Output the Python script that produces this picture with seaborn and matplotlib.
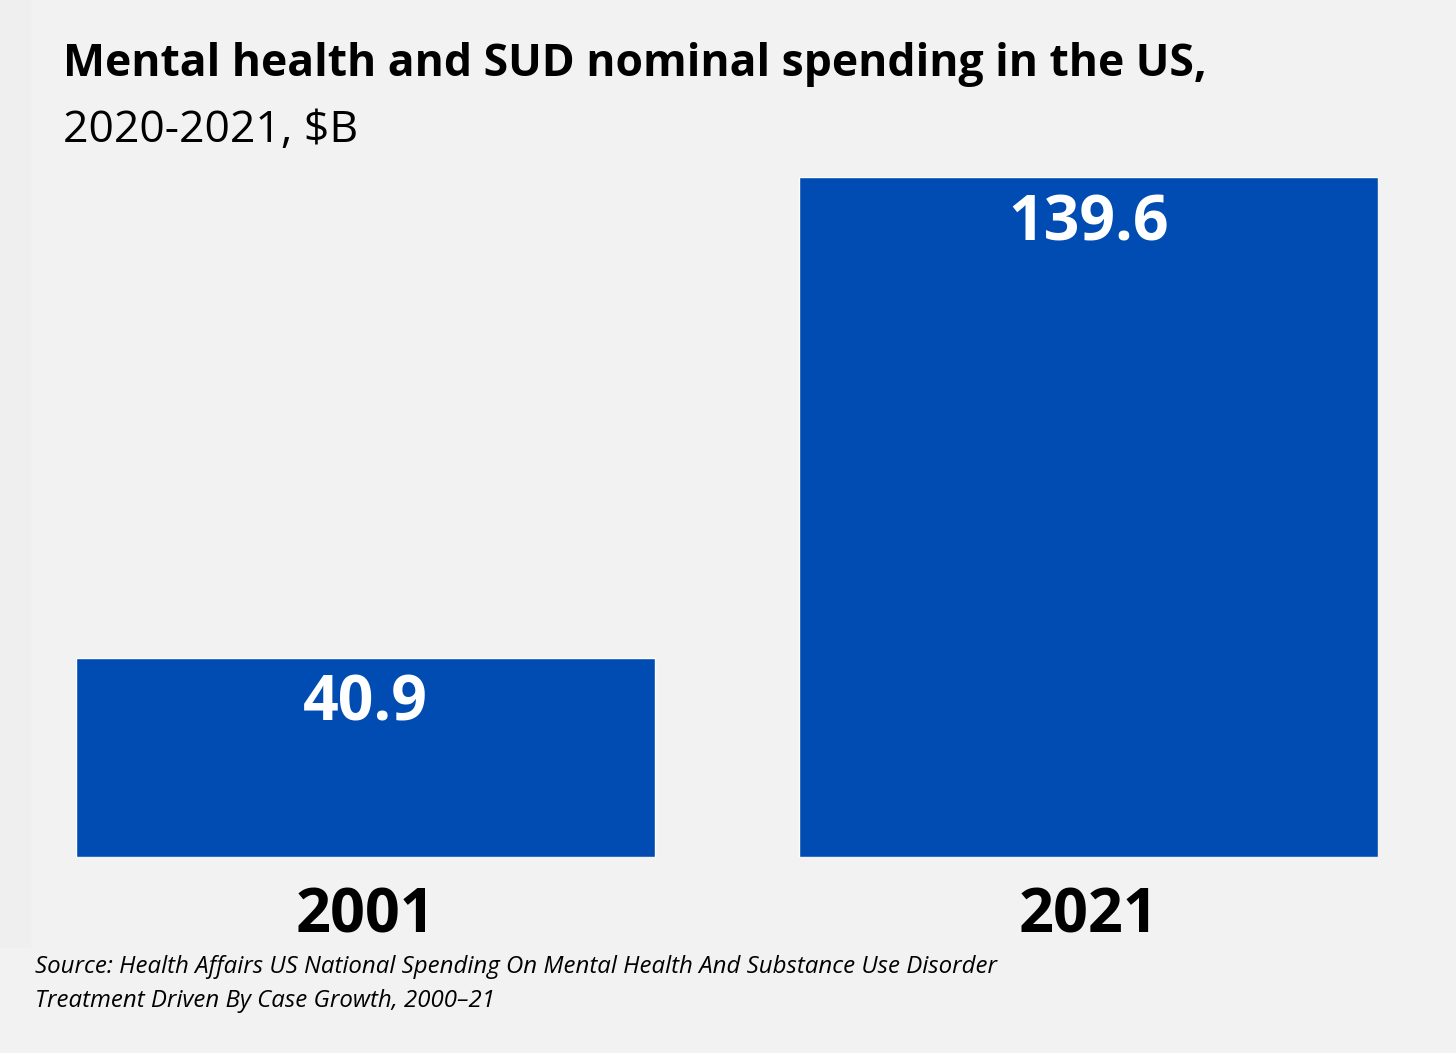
import matplotlib
matplotlib.use("Agg")
import matplotlib.pyplot as plt
import seaborn as sns
import pandas as pd
from matplotlib.patches import Rectangle

# chart data
years = ["2001", "2021"]
spending = [40.9, 139.6]

title = "Mental health and SUD nominal spending in the US,"
subtitle = "2020-2021, $B"
source_lines = [
    "Source: Health Affairs US National Spending On Mental Health And Substance Use Disorder",
    "Treatment Driven By Case Growth, 2000\u201321",
]

BG = "#f2f2f2"
BLUE = "#004cb3"
W, H = 1456, 1053


def px_x(x):
    return x / W


def px_y(y):
    return 1 - y / H


def plot_spending():
    sns.set_theme(style="white")
    plt.rcParams["font.family"] = ["Open Sans", "DejaVu Sans"]
    plt.rcParams["text.color"] = "black"

    df = pd.DataFrame({"year": years, "spending": spending})

    fig = plt.figure(figsize=(W / 100, H / 100), dpi=100, facecolor=BG)
    # faint darker strip on the left edge, as in the screenshot
    fig.patches.append(Rectangle((0, px_y(947)), px_x(30), 1 - px_y(947),
                                 transform=fig.transFigure, color="#efefef", zorder=0))

    ax = fig.add_axes([px_x(76), px_y(857), px_x(1378 - 76), (857 - 177) / H])
    ax.set_facecolor("none")
    sns.barplot(data=df, x="year", y="spending", color=BLUE, saturation=1,
                width=0.8, ax=ax)
    ax.set_xlim(-0.4, 1.4)
    ax.set_ylim(0, 139.6)

    for i, v in enumerate(spending):
        ax.annotate(f"{v:.1f}", xy=(i, v), xytext=(0, -45.5), textcoords="offset points",
                    ha="center", va="baseline", color="white", fontsize=45,
                    fontweight="bold")

    sns.despine(ax=ax, left=True, bottom=True)
    ax.set_yticks([])
    ax.set_xlabel("")
    ax.set_ylabel("")
    ax.tick_params(axis="x", length=0, pad=21)
    for lab in ax.get_xticklabels():
        lab.set_fontsize(44)
        lab.set_fontweight("bold")
        lab.set_color("black")

    fig.text(px_x(63), px_y(76), title, fontsize=32, fontweight="bold",
             va="baseline", color="black")
    fig.text(px_x(63), px_y(142), subtitle, fontsize=32, va="baseline", color="black")
    fig.text(px_x(35), px_y(973), source_lines[0], fontsize=17.3, style="italic",
             va="baseline", color="black")
    fig.text(px_x(35), px_y(1007), source_lines[1], fontsize=17.3, style="italic",
             va="baseline", color="black")

    fig.savefig("out.png", dpi=100, facecolor=BG)


if __name__ == "__main__":
    plot_spending()
